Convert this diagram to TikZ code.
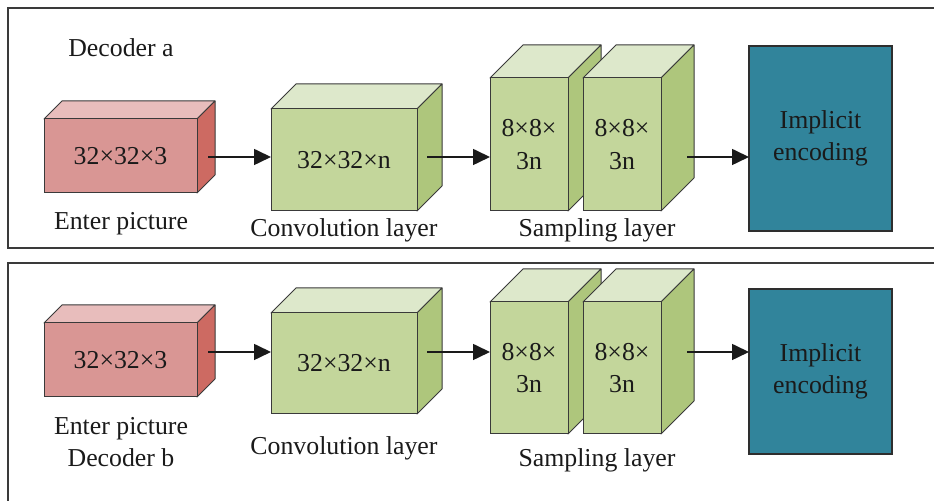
\documentclass[tikz,border=0pt]{standalone}
\usepackage{fontspec}
\setmainfont{Liberation Serif}
\usetikzlibrary{arrows.meta,calc}
\definecolor{redfront}{HTML}{D99694}
\definecolor{redtop}{HTML}{E8BDBC}
\definecolor{redside}{HTML}{CD6A62}
\definecolor{grnfront}{HTML}{C3D69B}
\definecolor{grntop}{HTML}{DDE8CB}
\definecolor{grnside}{HTML}{AEC67C}
\definecolor{encfill}{HTML}{31849B}
\definecolor{edge}{HTML}{3A3A3A}
\definecolor{ink}{HTML}{1A1A1A}
\tikzset{
  face/.style={draw=edge, line width=0.5pt, line join=round},
  frontface/.style={draw=edge, line width=0.5pt, inner sep=0pt, outer sep=0pt, align=center, text=ink, font=\fontsize{12.9}{16.3}\selectfont},
  lbl/.style={inner sep=0pt, text=ink, font=\fontsize{12.9}{16.3}\selectfont},
  enc/.style={draw=edge!80!black, line width=1pt, fill=encfill, inner sep=0pt, outer sep=0pt, align=center, text=ink, font=\fontsize{12.9}{16.3}\selectfont},
  arr/.style={-{Triangle[length=8.5pt,width=8pt]}, line width=0.8pt, draw=ink},
  panel/.style={draw=edge, line width=1pt}
}
\newcommand{\mycube}[8]{%
  \filldraw[face, fill=#7top] (#2,#3) -- (#2+#6,#3-#6) -- (#4+#6,#3-#6) -- (#4,#3) -- cycle;
  \filldraw[face, fill=#7side] (#4,#3) -- (#4+#6,#3-#6) -- (#4+#6,#5-#6) -- (#4,#5) -- cycle;
  \node[frontface, fill=#7front, minimum width={(#4-#2)*0.5pt}, minimum height={(#5-#3)*0.5pt}] (#1) at ({(#2+#4)/2},{(#3+#5)/2}) {#8};
}
\begin{document}
\begin{tikzpicture}[x=0.5pt, y=-0.5pt]
\useasboundingbox (0,0) rectangle (934,501);
\clip (0,0) rectangle (934,501);
\fill[white] (0,0) rectangle (934,501);
% panels
\draw[panel] (8,8) rectangle (980,248);
\draw[panel] (8,263) rectangle (980,540);
% ---- top row ----
\node[lbl, anchor=base] (decA) at (121,57) {Decoder a};
\mycube{inA}{44}{119}{197}{193}{18}{red}{32×32×3}
\mycube{convA}{271}{109}{417}{211}{25}{grn}{32×32×n}
\mycube{sampA1}{490}{78}{568}{211}{33}{grn}{8×8×\\3n}
\mycube{sampA2}{583}{78}{661}{211}{33}{grn}{8×8×\\3n}
\node[enc, minimum width=71.5pt, minimum height=92.5pt] (encA) at (820.5,138.5) {Implicit\\encoding};
\node[lbl, anchor=base] (lblInA) at (121,230) {Enter picture};
\node[lbl, anchor=base] (lblConvA) at (344,237) {Convolution layer};
\node[lbl, anchor=base] (lblSampA) at (597,237) {Sampling layer};
\coordinate (ya) at (0,157);
\draw[arr] ($(inA.east |- ya)+(11,0)$) -- (convA.west |- ya);
\draw[arr] ($(convA.east |- ya)+(10,0)$) -- (sampA1.west |- ya);
\draw[arr] ($(sampA2.east |- ya)+(26,0)$) -- (encA.west |- ya);
% ---- bottom row ----
\mycube{inB}{44}{323}{197}{397}{18}{red}{32×32×3}
\mycube{convB}{271}{313}{417}{414}{25}{grn}{32×32×n}
\mycube{sampB1}{490}{302}{568}{434}{33}{grn}{8×8×\\3n}
\mycube{sampB2}{583}{302}{661}{434}{33}{grn}{8×8×\\3n}
\node[enc, minimum width=71.5pt, minimum height=82.5pt] (encB) at (820.5,371.5) {Implicit\\encoding};
\node[lbl, anchor=base] (lblInB) at (121,435) {Enter picture};
\node[lbl, anchor=base] (decB) at (121,467) {Decoder b};
\node[lbl, anchor=base] (lblConvB) at (344,455) {Convolution layer};
\node[lbl, anchor=base] (lblSampB) at (597,467) {Sampling layer};
\coordinate (yb) at (0,352);
\draw[arr] ($(inB.east |- yb)+(11,0)$) -- (convB.west |- yb);
\draw[arr] ($(convB.east |- yb)+(10,0)$) -- (sampB1.west |- yb);
\draw[arr] ($(sampB2.east |- yb)+(26,0)$) -- (encB.west |- yb);
\end{tikzpicture}
\end{document}
